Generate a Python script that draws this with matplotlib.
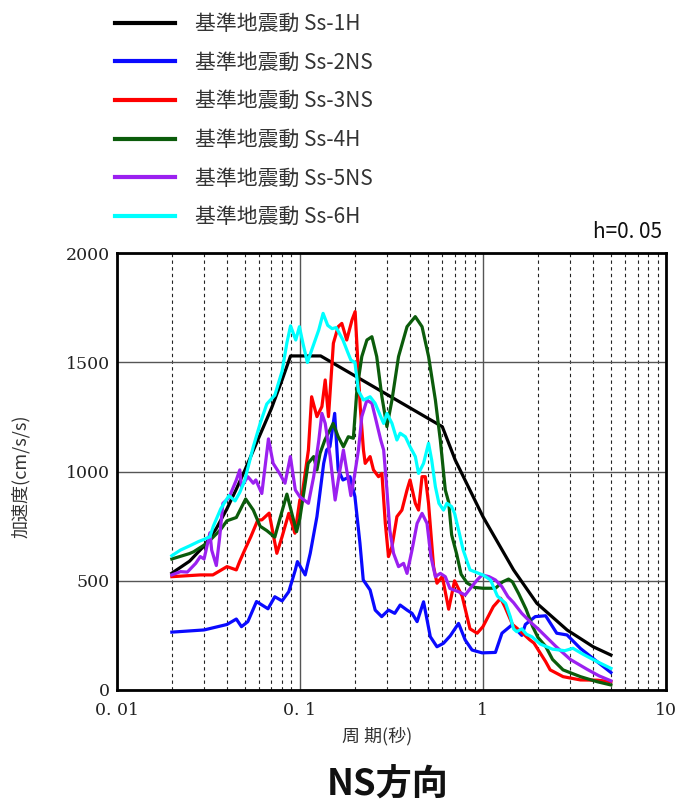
import numpy as np
import matplotlib
matplotlib.use('Agg')
import matplotlib.pyplot as plt
from matplotlib.ticker import FixedLocator, NullFormatter

plt.rcParams['font.family'] = ['Noto Sans CJK JP', 'DejaVu Sans']

# --- data (period [s], acceleration [cm/s/s]) ---
labels = ['基準地震動 Ss-1H', '基準地震動 Ss-2NS', '基準地震動 Ss-3NS',
          '基準地震動 Ss-4H', '基準地震動 Ss-5NS', '基準地震動 Ss-6H']
colors = ['#000000', '#0a0aff', '#ff0000', '#0b5c0b', '#9b20f0', '#00ffff']

t_ss1 = [0.02, 0.025, 0.03, 0.035, 0.04, 0.045, 0.05, 0.06, 0.07, 0.08, 0.089,
         0.13, 0.6, 0.706, 1.0, 1.47, 1.97, 2.88, 4.0, 5.0]
a_ss1 = [535, 590, 660, 740, 830, 920, 1005, 1160, 1290, 1420, 1530,
         1530, 1206, 1053, 794, 550, 397, 275, 198, 160]

t_ss2 = [0.02, 0.03, 0.04, 0.045, 0.048, 0.052, 0.058, 0.067, 0.073, 0.080, 0.087,
         0.0945, 0.097, 0.107, 0.114, 0.124, 0.135, 0.140, 0.146, 0.155, 0.162,
         0.172, 0.188, 0.200, 0.213, 0.222, 0.242, 0.258, 0.28, 0.305, 0.33,
         0.353, 0.385, 0.41, 0.437, 0.474, 0.516, 0.561, 0.609, 0.663, 0.736,
         0.80, 0.872, 0.99, 1.17, 1.27, 1.44, 1.63, 1.705, 1.93, 2.2, 2.53,
         2.88, 3.41, 4.2, 5.0]
a_ss2 = [265, 275, 300, 325, 290, 313, 405, 372, 427, 408, 450,
         550, 588, 527, 626, 794, 1038, 1099, 1114, 1267, 1008,
         962, 977, 885, 672, 504, 458, 366, 336, 366, 351,
         389, 366, 351, 313, 404, 244, 198, 214, 248, 305,
         229, 183, 170, 172, 260, 298, 250, 300, 336, 340, 260,
         252, 190, 130, 80]

t_ss3 = [0.02, 0.0286, 0.0335, 0.04, 0.045, 0.047, 0.050, 0.054, 0.059, 0.062,
         0.068, 0.0749, 0.080, 0.087, 0.094, 0.100, 0.1026, 0.1114, 0.116, 0.124,
         0.132, 0.1376, 0.1434, 0.1525, 0.162, 0.1696, 0.1804, 0.1928, 0.2005,
         0.209, 0.2137, 0.2226, 0.2275, 0.242, 0.2525, 0.269, 0.2807, 0.293,
         0.305, 0.3186, 0.339, 0.361, 0.385, 0.40, 0.4274, 0.445, 0.465, 0.4845,
         0.5046, 0.5375, 0.561, 0.60, 0.65, 0.70, 0.77, 0.85, 0.93, 1.0, 1.14,
         1.25, 1.32, 1.45, 1.6, 1.8, 1.9, 2.0, 2.2, 2.33, 2.74, 3.41, 4.2, 5.0]
a_ss3 = [519, 527, 527, 565, 550, 590, 641, 702, 779, 779,
         810, 626, 702, 809, 718, 870, 885, 1099, 1343, 1252,
         1298, 1420, 1252, 1588, 1664, 1679, 1603, 1695, 1733,
         1450, 1298, 1099, 1038, 1069, 1008, 977, 992, 763,
         611, 656, 794, 824, 916, 962, 855, 824, 977, 977,
         855, 565, 489, 520, 370, 500, 430, 280, 260, 290, 382,
         420, 380, 300, 270, 230, 215, 185, 130, 92, 61, 46, 45, 38]

t_ss4 = [0.02, 0.025, 0.0263, 0.0311, 0.0368, 0.040, 0.045, 0.0506, 0.0557,
         0.0607, 0.066, 0.073, 0.0775, 0.085, 0.091, 0.096, 0.100, 0.107, 0.111,
         0.119, 0.124, 0.129, 0.137, 0.146, 0.152, 0.162, 0.173, 0.184, 0.196,
         0.205, 0.218, 0.2325, 0.2475, 0.263, 0.2807, 0.299, 0.3186, 0.346,
         0.385, 0.427, 0.465, 0.505, 0.55, 0.585, 0.623, 0.65, 0.675, 0.72,
         0.76, 0.82, 0.9, 1.0, 1.17, 1.28, 1.38, 1.45, 1.57, 1.72, 1.87, 2.0,
         2.2, 2.4, 2.74, 3.41, 4.2, 5.0]
a_ss4 = [600, 625, 633, 672, 733, 775, 790, 875, 824,
         750, 730, 700, 779, 897, 800, 725, 785, 947, 1038,
         1069, 1008, 1084, 1145, 1191, 1221, 1160, 1114, 1160, 1153,
         1374, 1527, 1603, 1618, 1527, 1343, 1206, 1328, 1527,
         1664, 1710, 1664, 1527, 1328, 1145, 916, 860, 710, 620,
         530, 490, 470, 466, 466, 495, 508, 495, 440, 370, 290, 240,
         200, 140, 92, 61, 38, 23]

t_ss5 = [0.02, 0.0223, 0.0243, 0.027, 0.0286, 0.030, 0.0323, 0.033, 0.035,
         0.0365, 0.038, 0.041, 0.045, 0.047, 0.048, 0.052, 0.0557, 0.0575,
         0.062, 0.0674, 0.0715, 0.0775, 0.083, 0.0888, 0.0945, 0.100, 0.1114,
         0.119, 0.127, 0.132, 0.1376, 0.1464, 0.1559, 0.1644, 0.173, 0.184,
         0.19, 0.197, 0.209, 0.218, 0.2325, 0.2475, 0.2578, 0.2766, 0.287,
         0.299, 0.31, 0.325, 0.346, 0.3686, 0.385, 0.41, 0.437, 0.465, 0.495,
         0.52, 0.55, 0.585, 0.623, 0.66, 0.736, 0.80, 0.84, 0.93, 0.99, 1.08,
         1.17, 1.27, 1.37, 1.47, 1.63, 1.85, 2.0, 2.5, 3.0, 3.7, 4.3, 5.0]
a_ss5 = [527, 542, 540, 580, 611, 600, 720, 641, 570,
         700, 855, 880, 962, 1008, 931, 977, 947, 962,
         900, 1150, 1038, 992, 947, 1069, 916, 885, 855,
         977, 1145, 1267, 1221, 1069, 870, 992, 1099, 962,
         890, 960, 1099, 1252, 1328, 1313, 1252, 1145, 1099,
         916, 733, 626, 565, 580, 534, 641, 763, 809, 763,
         611, 519, 534, 519, 465, 450, 435, 458, 504, 527, 519,
         504, 473, 427, 400, 351, 305, 280, 200, 140, 95, 65, 42]

t_ss6 = [0.02, 0.0223, 0.025, 0.028, 0.030, 0.0323, 0.0337, 0.037, 0.041,
         0.0443, 0.047, 0.050, 0.0557, 0.0607, 0.066, 0.073, 0.080, 0.085,
         0.089, 0.095, 0.0995, 0.104, 0.110, 0.117, 0.127, 0.134, 0.142, 0.150,
         0.158, 0.172, 0.182, 0.190, 0.200, 0.209, 0.2226, 0.242, 0.2578,
         0.2766, 0.287, 0.299, 0.3186, 0.339, 0.353, 0.377, 0.40, 0.4274,
         0.445, 0.474, 0.5046, 0.525, 0.55, 0.575, 0.609, 0.636, 0.674, 0.70,
         0.736, 0.78, 0.85, 0.95, 1.0, 1.1, 1.2, 1.33, 1.41, 1.47, 1.53, 1.63,
         1.73, 1.85, 2.06, 2.4, 2.8, 3.1, 3.5, 4.2, 5.0]
a_ss6 = [615, 641, 660, 680, 690, 702, 750, 830, 890,
         866, 905, 960, 1114, 1220, 1310, 1350, 1460, 1590,
         1668, 1603, 1664, 1588, 1500, 1565, 1650, 1725, 1670, 1655,
         1660, 1603, 1550, 1511, 1500, 1370, 1328, 1343, 1313,
         1252, 1221, 1267, 1221, 1145, 1176, 1160, 1114, 1069,
         992, 1038, 1130, 1053, 931, 855, 824, 855, 840, 809,
         733, 641, 550, 534, 527, 504, 430, 397, 336, 280, 267, 280,
         255, 244, 210, 187, 180, 191, 165, 130, 99]

periods = [t_ss1, t_ss2, t_ss3, t_ss4, t_ss5, t_ss6]
accels = [a_ss1, a_ss2, a_ss3, a_ss4, a_ss5, a_ss6]

x_major = [0.01, 0.1, 1, 10]
x_major_labels = ['0. 01', '0. 1', '1', '10']
x_minor = [m * d for d in (0.01, 0.1, 1) for m in range(2, 10)]
y_ticks = [0, 500, 1000, 1500, 2000]

fig = plt.figure(figsize=(6.79, 8.07), dpi=100)
ax = fig.add_axes([0.1719, 0.1450, 0.8090, 0.5411])

lines = []
for t, a, c, lab in zip(periods, accels, colors, labels):
    ln, = ax.plot(t, a, color=c, lw=2.3, label=lab, solid_joinstyle='round')
    lines.append(ln)

ax.set_xscale('log')
ax.set_xlim(0.01, 10)
ax.set_ylim(0, 2000)
ax.xaxis.set_major_locator(FixedLocator(x_major))
ax.xaxis.set_minor_locator(FixedLocator(x_minor))
ax.xaxis.set_minor_formatter(NullFormatter())
ax.set_xticks(x_major, x_major_labels)
ax.set_yticks(y_ticks)
ax.tick_params(which='both', length=0)
ax.tick_params(axis='x', pad=9)
ax.tick_params(axis='y', pad=5)
for lab in ax.get_xticklabels() + ax.get_yticklabels():
    lab.set_fontfamily('DejaVu Serif')
    lab.set_fontsize(12.5)
    lab.set_color('#222222')

ax.grid(which='major', axis='both', color='#555555', lw=1.0, ls='-')
ax.grid(which='minor', axis='x', color='#222222', lw=0.8, ls=(0, (3, 3)))
ax.set_axisbelow(True)
for s in ax.spines.values():
    s.set_linewidth(2.0)

ax.set_xlabel('周 期(秒)', fontsize=13, color='#333333')
ax.xaxis.set_label_coords(0.474, -0.085)
ax.set_ylabel('加速度(cm/s/s)', fontsize=13, color='#333333')
ax.yaxis.set_label_coords(-0.158, 0.49)

ax.text(0.992, 1.049, 'h=0. 05', transform=ax.transAxes, ha='right', va='center',
        fontsize=15, color='#111111')

leg = fig.legend(handles=lines, loc='upper left', bbox_to_anchor=(115 / 679, 1 - 13 / 807),
                 frameon=False, fontsize=15, handlelength=2.9, handletextpad=0.95,
                 labelspacing=0.8, borderpad=0, borderaxespad=0, labelcolor='#333333')
for h in leg.get_lines():
    h.set_linewidth(3.0)

fig.text(388 / 679, 1 - 785 / 807, 'NS方向', ha='center', va='center',
         fontsize=26, fontweight='bold', color='#111111')

fig.savefig('out.png', dpi=100)
